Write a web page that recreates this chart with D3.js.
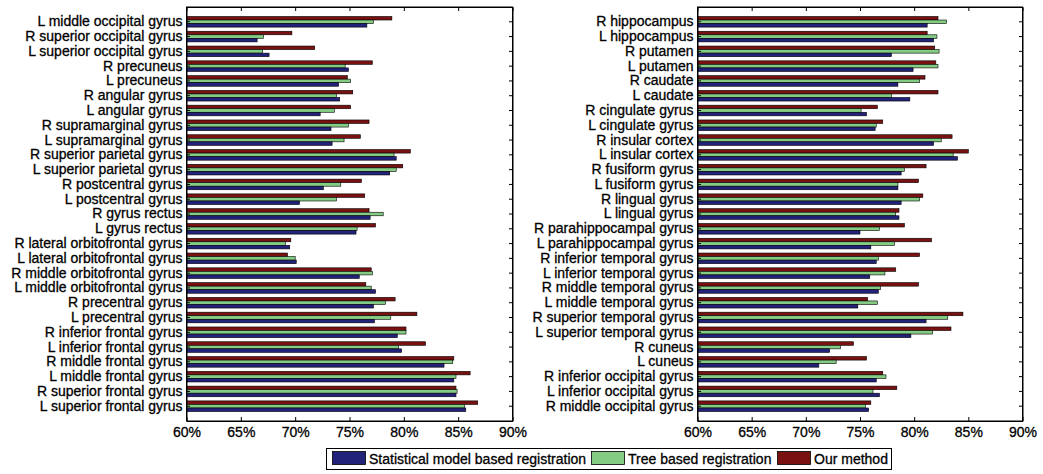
<!DOCTYPE html>
<html>
<head>
<meta charset="utf-8">
<script src="https://cdn.jsdelivr.net/npm/d3@7"></script>
<style>
  body { margin: 0; background: #fff; }
  svg text { font-family: "Liberation Sans", Arial, sans-serif; fill: #000; stroke: #000; stroke-width: 0.3px; }
</style>
</head>
<body>
<svg id="chart" width="1043" height="474"></svg>
<script>
// series names (legend order) and colours
const seriesNames = ["Statistical model based registration", "Tree based registration", "Our method"];
const seriesKeys = ["stat", "tree", "ours"];
const colors = { stat: "#22227a", tree: "#84cc84", ours: "#7a1111" };

const xTicks = [60, 65, 70, 75, 80, 85, 90];

// left panel, top to bottom
const leftRegions = [
  "L middle occipital gyrus", "R superior occipital gyrus", "L superior occipital gyrus",
  "R precuneus", "L precuneus", "R angular gyrus", "L angular gyrus",
  "R supramarginal gyrus", "L supramarginal gyrus", "R superior parietal gyrus",
  "L superior parietal gyrus", "R postcentral gyrus", "L postcentral gyrus",
  "R gyrus rectus", "L gyrus rectus", "R lateral orbitofrontal gyrus",
  "L lateral orbitofrontal gyrus", "R middle orbitofrontal gyrus", "L middle orbitofrontal gyrus",
  "R precentral gyrus", "L precentral gyrus", "R inferior frontal gyrus",
  "L inferior frontal gyrus", "R middle frontal gyrus", "L middle frontal gyrus",
  "R superior frontal gyrus", "L superior frontal gyrus"
];
const leftStat = [76.6, 66.5, 67.6, 74.9, 74.0, 74.1, 72.3, 73.3, 73.4, 79.3, 78.7, 72.6, 70.4,
  76.9, 75.6, 69.5, 70.1, 75.9, 77.4, 77.2, 77.3, 79.4, 79.8, 83.7, 84.6, 84.8, 85.7];
const leftTree = [77.2, 67.1, 67.0, 74.6, 75.1, 73.8, 73.6, 74.9, 74.5, 79.1, 79.3, 74.2, 73.8,
  78.1, 75.7, 69.1, 70.0, 77.1, 77.0, 78.3, 78.8, 80.2, 79.5, 84.5, 84.8, 84.9, 85.6];
const leftOurs = [78.9, 69.7, 71.8, 77.1, 74.8, 75.3, 75.1, 76.8, 76.0, 80.6, 79.9, 76.1, 76.4,
  76.8, 77.4, 69.6, 69.3, 77.0, 76.5, 79.2, 81.2, 80.2, 82.0, 84.6, 86.1, 84.8, 86.8];

// right panel, top to bottom
const rightRegions = [
  "R hippocampus", "L hippocampus", "R putamen", "L putamen", "R caudate", "L caudate",
  "R cingulate gyrus", "L cingulate gyrus", "R insular cortex", "L insular cortex",
  "R fusiform gyrus", "L fusiform gyrus", "R lingual gyrus", "L lingual gyrus",
  "R parahippocampal gyrus", "L parahippocampal gyrus", "R inferior temporal gyrus",
  "L inferior temporal gyrus", "R middle temporal gyrus", "L middle temporal gyrus",
  "R superior temporal gyrus", "L superior temporal gyrus", "R cuneus", "L cuneus",
  "R inferior occipital gyrus", "L inferior occipital gyrus", "R middle occipital gyrus"
];
const rightStat = [81.2, 81.8, 77.9, 79.9, 78.5, 79.6, 75.6, 76.4, 81.8, 84.0, 78.8, 78.5, 78.8,
  78.6, 75.0, 76.0, 76.5, 75.9, 76.7, 74.8, 81.1, 79.7, 72.2, 71.2, 76.5, 76.8, 75.8];
const rightTree = [83.0, 82.1, 82.3, 82.2, 80.5, 77.9, 75.1, 76.5, 82.5, 83.6, 79.1, 78.5, 80.5,
  78.3, 76.8, 78.2, 76.7, 77.3, 76.9, 76.6, 83.1, 81.7, 73.2, 72.8, 77.4, 76.2, 75.5];
const rightOurs = [82.2, 81.2, 81.9, 82.0, 81.0, 82.2, 76.6, 77.1, 83.5, 85.0, 81.1, 80.4, 80.8,
  78.6, 79.1, 81.6, 80.5, 78.3, 80.4, 75.7, 84.5, 83.4, 74.4, 75.6, 77.1, 78.4, 76.0];

const svg = d3.select("#chart");
const plotTop = 7, plotBottom = 421;

function panel(x0, x1, regions, stat, tree, ours) {
  const rows = regions.map((r, i) => ({ region: r, stat: stat[i], tree: tree[i], ours: ours[i] }));

  const x = d3.scaleLinear().domain([60, 90]).range([x0, x1]);
  const y = d3.scaleBand().domain(regions).range([plotTop, plotBottom])
      .paddingInner(0.28).paddingOuter(0.64);
  // red on top, then green, then blue
  const ySub = d3.scaleBand().domain(["ours", "tree", "stat"]).range([0, y.bandwidth()]);

  const g = svg.append("g");

  const groups = g.selectAll(".grp")
      .data(rows)
      .enter()
      .append("g")
      .attr("class", "grp")
      .attr("transform", d => `translate(0,${y(d.region)})`);

  groups.selectAll("rect")
      .data(d => ["ours", "tree", "stat"].map(k => ({ key: k, value: d[k] })))
      .enter()
      .append("rect")
      .attr("x", x(60))
      .attr("y", d => ySub(d.key))
      .attr("width", d => x(d.value) - x(60))
      .attr("height", ySub.bandwidth())
      .attr("fill", d => colors[d.key])
      .attr("stroke", "#000")
      .attr("stroke-width", 0.6);

  // axes drawn as a box with inward ticks
  const bottomAxis = g.append("g")
      .attr("transform", `translate(0,${plotBottom})`)
      .call(d3.axisBottom(x).tickValues(xTicks).tickSize(-4).tickSizeOuter(0)
        .tickPadding(6).tickFormat(d => d + "%"));
  bottomAxis.selectAll("text").attr("font-size", 14);

  g.append("g")
      .attr("transform", `translate(0,${plotTop})`)
      .call(d3.axisTop(x).tickValues(xTicks).tickSize(-4).tickSizeOuter(0).tickFormat(""));

  const leftAxis = g.append("g")
      .attr("transform", `translate(${x0},0)`)
      .call(d3.axisLeft(y).tickSize(-3.5).tickSizeOuter(0).tickPadding(4));
  leftAxis.selectAll("text").attr("font-size", 14);

  g.append("g")
      .attr("transform", `translate(${x1},0)`)
      .call(d3.axisRight(y).tickSize(-3.5).tickSizeOuter(0).tickFormat(""));

  g.selectAll(".domain").attr("stroke", "#000");
  g.selectAll(".tick line").attr("stroke", "#000");
  g.selectAll("g").attr("font-family", null).attr("font-size", null);

  // make the box meet at the corners
  g.append("rect")
      .attr("x", x0).attr("y", plotTop)
      .attr("width", x1 - x0).attr("height", plotBottom - plotTop)
      .attr("fill", "none").attr("stroke", "#000").attr("stroke-width", 1);
}

panel(186.5, 512.5, leftRegions, leftStat, leftTree, leftOurs);
panel(697.5, 1022.5, rightRegions, rightStat, rightTree, rightOurs);

// legend
const legend = svg.append("g");
legend.append("rect")
    .attr("x", 326.5).attr("y", 448.5)
    .attr("width", 565).attr("height", 21)
    .attr("fill", "#fff").attr("stroke", "#000");

const legendX = [332, 591, 777];
seriesKeys.forEach((k, i) => {
  legend.append("rect")
      .attr("x", legendX[i] + 0.5).attr("y", 451.5)
      .attr("width", 33).attr("height", 13)
      .attr("fill", colors[k]).attr("stroke", "#000").attr("stroke-width", 0.8);
  legend.append("text")
      .attr("x", legendX[i] + 37).attr("y", 463.5)
      .attr("font-size", 14)
      .text(seriesNames[i]);
});
</script>
</body>
</html>
